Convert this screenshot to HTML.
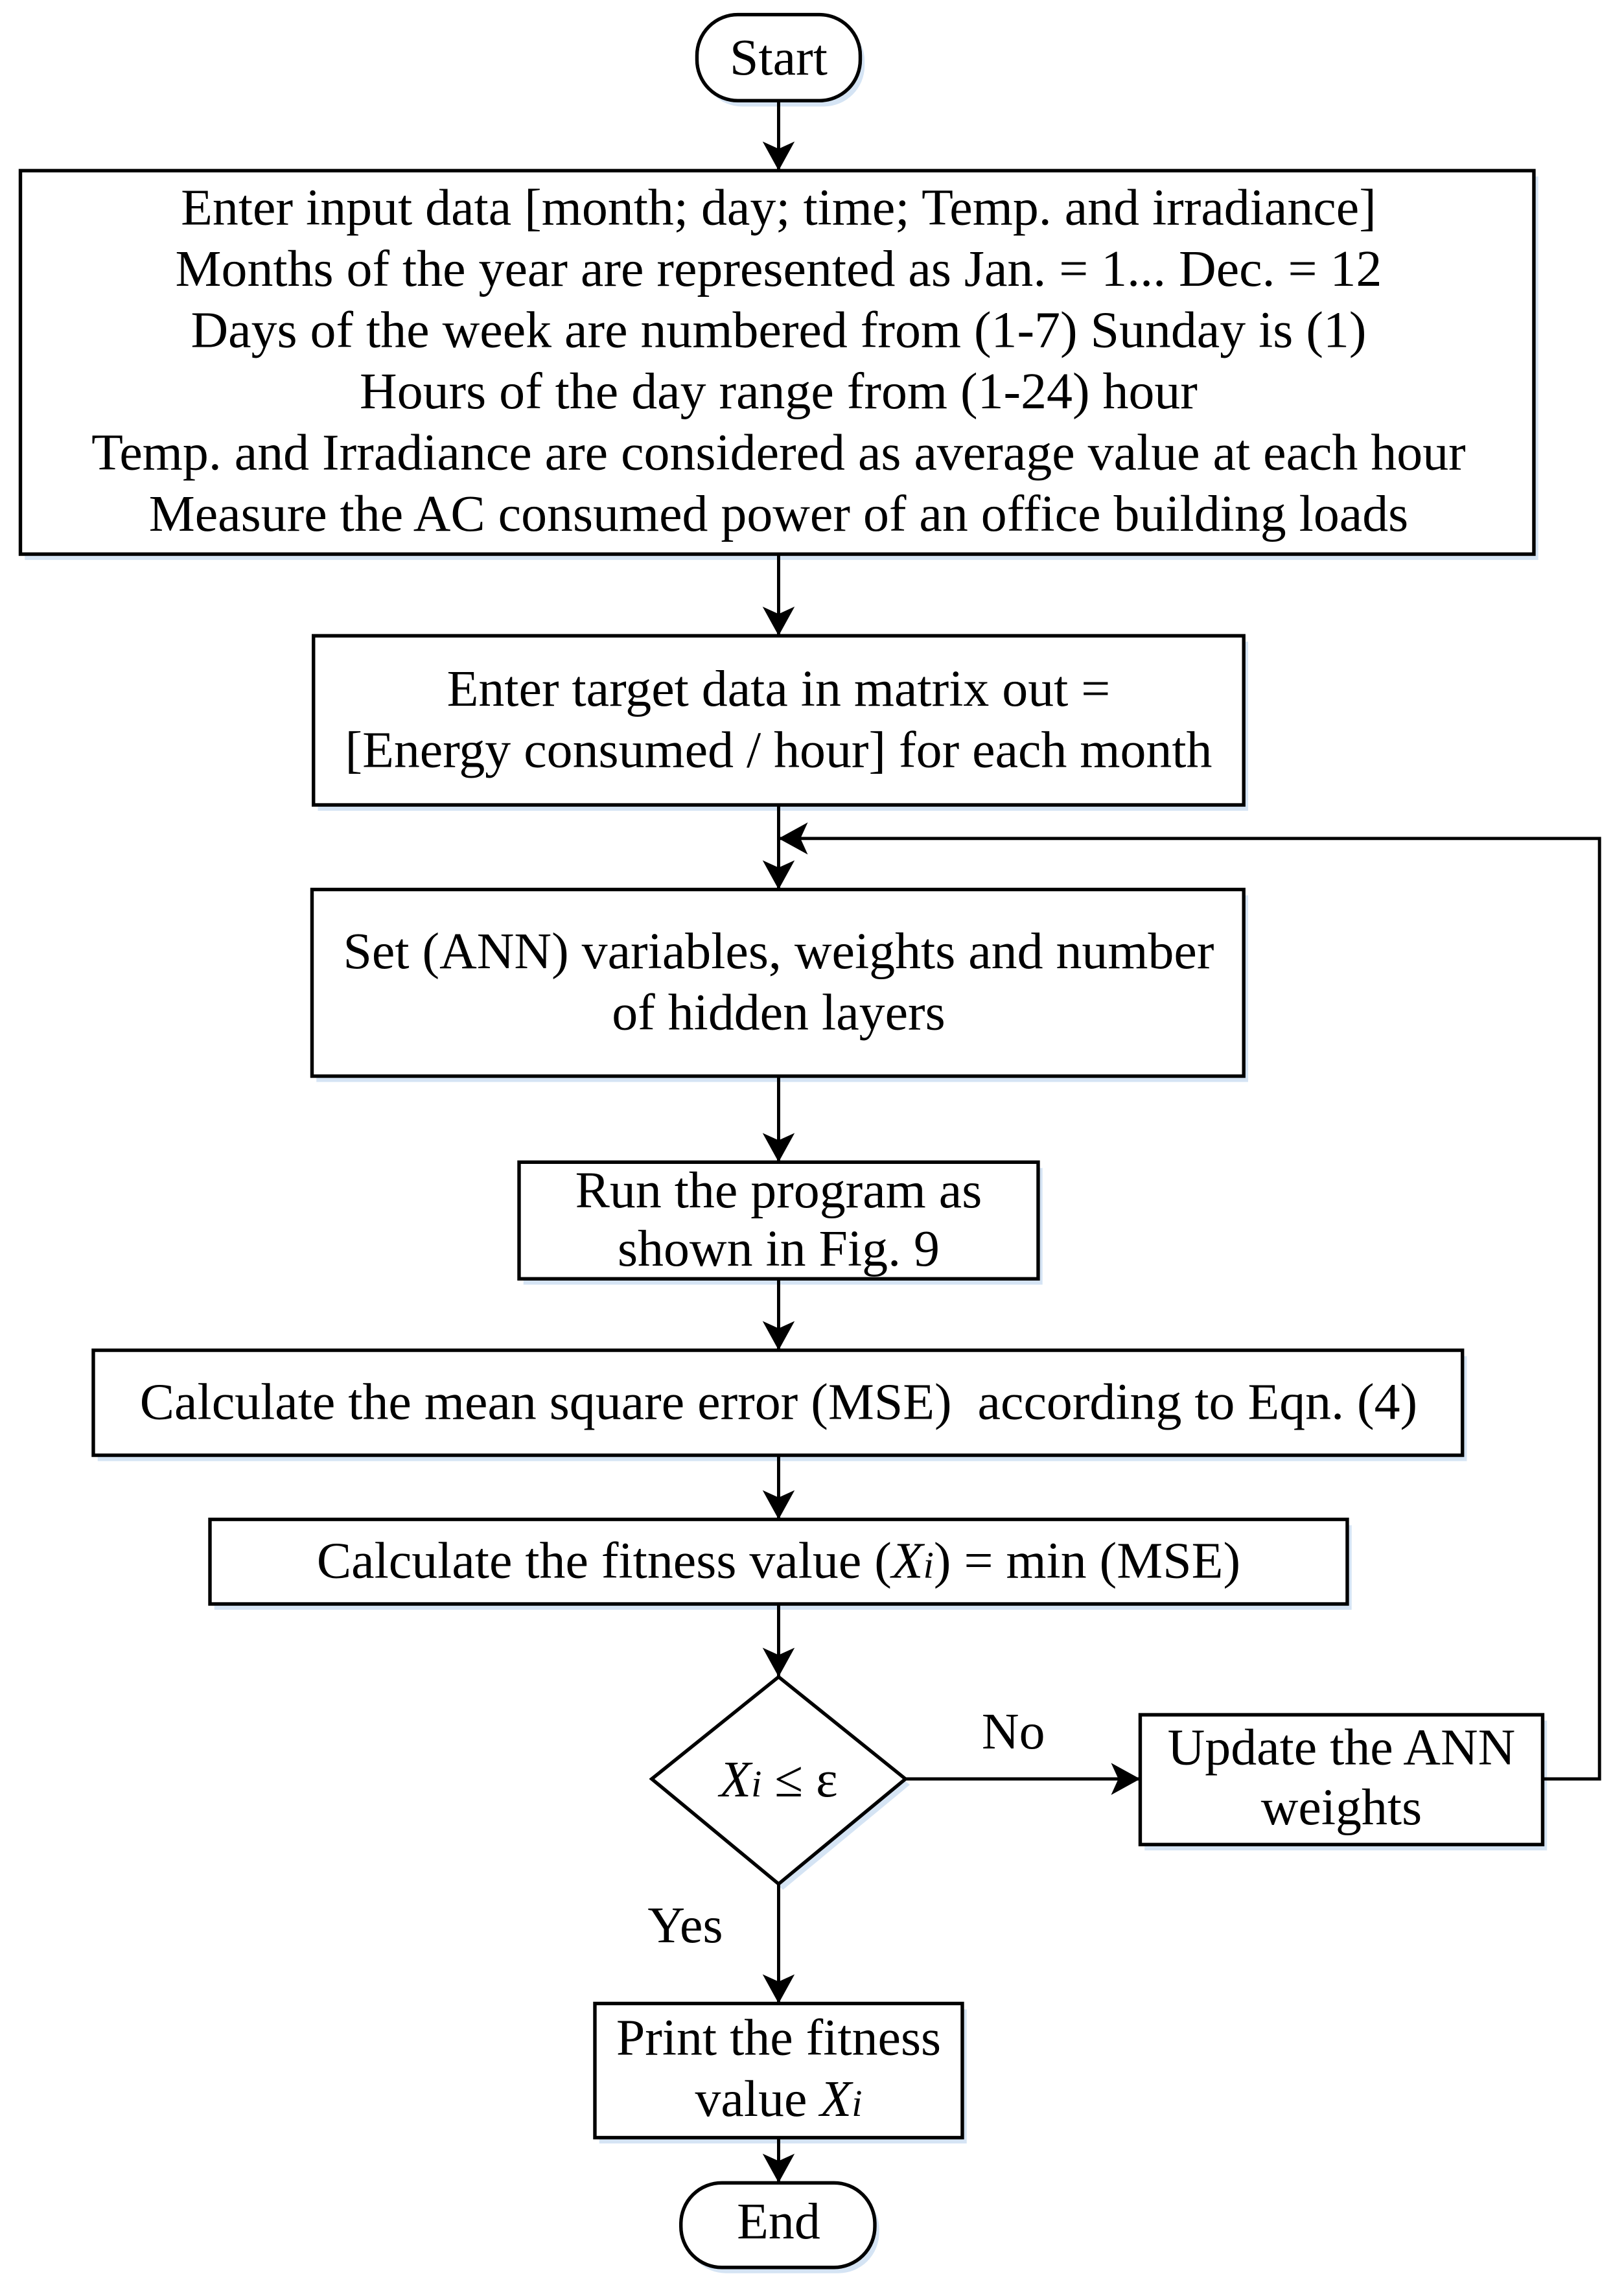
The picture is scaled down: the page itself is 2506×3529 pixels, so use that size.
<!DOCTYPE html>
<html><head><meta charset="utf-8"><style>
html,body{margin:0;padding:0;background:#fff;}
svg{display:block;}
text{font-family:"Liberation Serif","Times New Roman",serif;fill:#000;}
</style></head><body>
<svg width="2506" height="3529" viewBox="0 0 1113.8 1568.4" xmlns="http://www.w3.org/2000/svg">
<defs>
<marker id="ah" viewBox="0 0 20 22" refX="20" refY="11" markerWidth="20" markerHeight="22" markerUnits="userSpaceOnUse" orient="auto">
<path d="M0,0 L20,11 L0,22 L5,11 Z" fill="#000"/>
</marker>
</defs>
<g fill="#d5e4f4" stroke="none">
<rect x="481" y="14" width="112" height="59" rx="28"/>
<rect x="17" y="121" width="1038" height="263"/>
<rect x="218" y="440" width="638" height="116"/>
<rect x="217" y="614" width="639" height="128"/>
<rect x="359" y="801" width="356" height="80"/>
<rect x="67" y="930" width="939" height="72"/>
<rect x="147" y="1046" width="780" height="58"/>
<polygon points="450,1224 537,1154 624,1224 537,1296"/>
<rect x="785" y="1180" width="276" height="89"/>
<rect x="411" y="1378" width="252" height="92"/>
<rect x="470" y="1501" width="133" height="58" rx="28"/>
</g>
<g fill="#fff" stroke="#000" stroke-width="2.4">
<rect x="478" y="10" width="112" height="59" rx="28"/>
<rect x="14" y="117" width="1038" height="263"/>
<rect x="215" y="436" width="638" height="116"/>
<rect x="214" y="610" width="639" height="128"/>
<rect x="356" y="797" width="356" height="80"/>
<rect x="64" y="926" width="939" height="72"/>
<rect x="144" y="1042" width="780" height="58"/>
<polygon points="447,1220 534,1150 621,1220 534,1292"/>
<rect x="782" y="1176" width="276" height="89"/>
<rect x="408" y="1374" width="252" height="92"/>
<rect x="467" y="1497" width="133" height="58" rx="28"/>
</g>
<g stroke="#000" stroke-width="2.2" fill="none" marker-end="url(#ah)">
<line x1="534" y1="69" x2="534" y2="117"/>
<line x1="534" y1="380" x2="534" y2="436"/>
<line x1="534" y1="552" x2="534" y2="610"/>
<line x1="534" y1="738" x2="534" y2="797"/>
<line x1="534" y1="877" x2="534" y2="926"/>
<line x1="534" y1="998" x2="534" y2="1042"/>
<line x1="534" y1="1100" x2="534" y2="1150"/>
<line x1="534" y1="1292" x2="534" y2="1374"/>
<line x1="534" y1="1466" x2="534" y2="1497"/>
<line x1="621" y1="1220" x2="782" y2="1220"/>
<polyline points="1058,1220 1097,1220 1097,575 534,575"/>
</g>
<g font-size="35.5" text-anchor="middle">
<text x="534" y="51">Start</text>
<text x="534" y="154">Enter input data [month; day; time; Temp. and irradiance]</text>
<text x="534" y="196">Months of the year are represented as Jan. = 1... Dec. = 12</text>
<text x="534" y="238">Days of the week are numbered from (1-7) Sunday is (1)</text>
<text x="534" y="280">Hours of the day range from (1-24) hour</text>
<text x="534" y="322">Temp. and Irradiance are considered as average value at each hour</text>
<text x="534" y="364">Measure the AC consumed power of an office building loads</text>
<text x="534" y="484">Enter target data in matrix out =</text>
<text x="534" y="526">[Energy consumed / hour] for each month</text>
<text x="534" y="664">Set (ANN) variables, weights and number</text>
<text x="534" y="706">of hidden layers</text>
<text x="534" y="828">Run the program as</text>
<text x="534" y="868">shown in Fig. 9</text>
<text x="534" y="973">Calculate the mean square error (MSE)&#160; according to Eqn. (4)</text>
<text x="534" y="1082">Calculate the fitness value (<tspan font-style="italic">X<tspan font-size="26">i</tspan></tspan>) = min (MSE)</text>
<text x="534" y="1232"><tspan font-style="italic">X<tspan font-size="26">i</tspan></tspan> ≤ ε</text>
<text x="695" y="1199">No</text>
<text x="920" y="1210">Update the ANN</text>
<text x="920" y="1251">weights</text>
<text x="470" y="1332">Yes</text>
<text x="534" y="1409">Print the fitness</text>
<text x="534" y="1451">value <tspan font-style="italic">X<tspan font-size="26">i</tspan></tspan></text>
<text x="534" y="1535">End</text>
</g>
</svg>
</body></html>
